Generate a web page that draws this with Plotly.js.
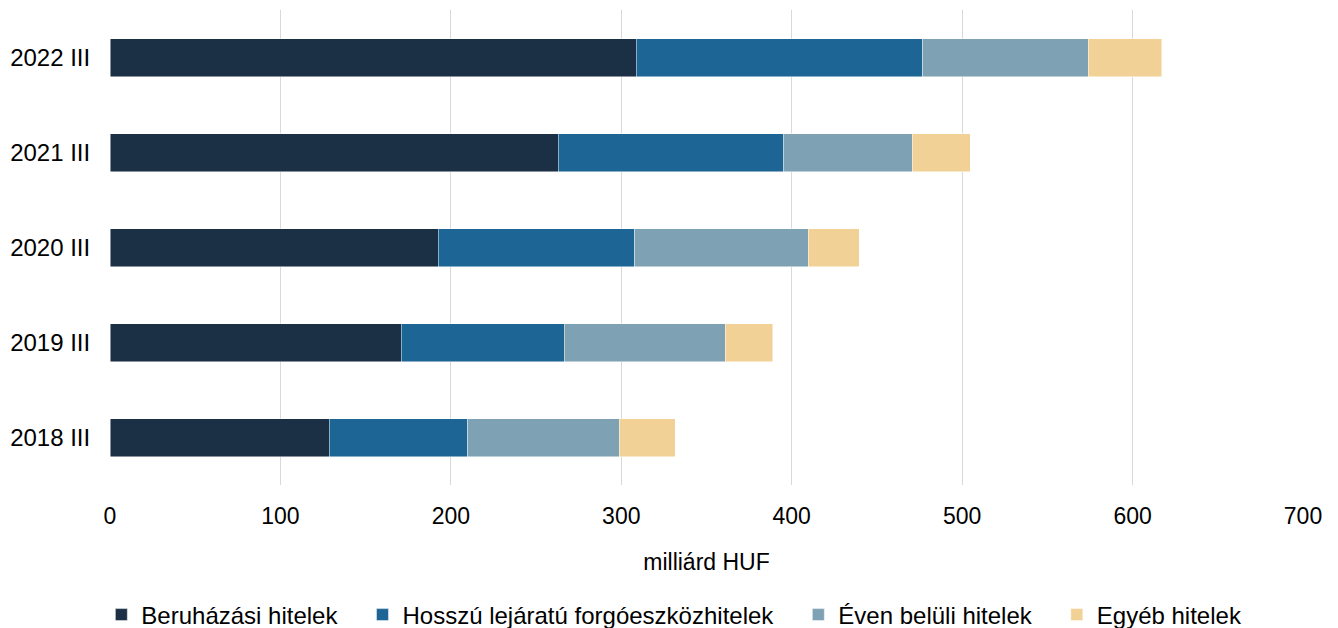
<!DOCTYPE html>
<html>
<head>
<meta charset="utf-8">
<script src="https://cdn.plot.ly/plotly-3.0.1.min.js"></script>
<style>
  body { margin: 0; background: #fff; }
  #chart { width: 1338px; height: 628px; }
</style>
</head>
<body>
<div id="chart"></div>
<script>
// Categories (bottom to top)
var periods = ["2018 III", "2019 III", "2020 III", "2021 III", "2022 III"];

// Series values, milliard HUF
var beruhazasi = [128.5, 170.8, 192.5, 263.0, 308.7];
var hosszu = [81.5, 95.6, 115.5, 132.0, 168.3];
var evenBelul = [88.7, 94.6, 101.6, 75.6, 97.0];
var egyeb = [32.9, 28.0, 29.9, 34.1, 43.0];

var seriesNames = ["Beruházási hitelek", "Hosszú lejáratú forgóeszközhitelek", "Éven belüli hitelek", "Egyéb hitelek"];
var seriesValues = [beruhazasi, hosszu, evenBelul, egyeb];
var colors = ["#1b3045", "#1d6595", "#7fa1b4", "#f2d196"];

// a little extra room after each legend entry, except the last
var pad = "\u00a0\u00a0\u00a0";

var data = seriesValues.map(function (vals, i) {
  return {
    type: "bar",
    orientation: "h",
    name: seriesNames[i] + (i < seriesNames.length - 1 ? pad : ""),
    y: periods,
    x: vals,
    marker: { color: colors[i], line: { color: "rgba(255,255,255,0.6)", width: 0.8 } },
    hoverinfo: "x+name"
  };
});

var layout = {
  width: 1338,
  height: 628,
  barmode: "stack",
  bargap: 0.6,
  font: { family: "Liberation Sans, Arial, sans-serif", size: 23, color: "#000" },
  margin: { l: 110, r: 35, t: 10, b: 143 },
  paper_bgcolor: "#fff",
  plot_bgcolor: "#fff",
  xaxis: {
    range: [0, 700],
    dtick: 100,
    showgrid: true,
    gridcolor: "#d9d9d9",
    gridwidth: 1,
    zeroline: false,
    showline: false,
    ticks: "outside",
    ticklen: 10,
    tickcolor: "rgba(0,0,0,0)",
    tickfont: { size: 23 },
    title: { text: "milliárd HUF", font: { size: 23 }, standoff: 26 }
  },
  yaxis: {
    showgrid: false,
    zeroline: false,
    showline: false,
    ticks: "outside",
    ticklen: 14,
    tickcolor: "rgba(0,0,0,0)",
    tickfont: { size: 24 }
  },
  legend: {
    orientation: "h",
    xref: "container",
    yref: "container",
    x: 0.504,
    xanchor: "center",
    y: 0.0207,
    yanchor: "middle",
    traceorder: "normal",
    font: { size: 24 },
    itemwidth: 30
  },
  showlegend: true
};

Plotly.newPlot("chart", data, layout, { staticPlot: true });
</script>
</body>
</html>
